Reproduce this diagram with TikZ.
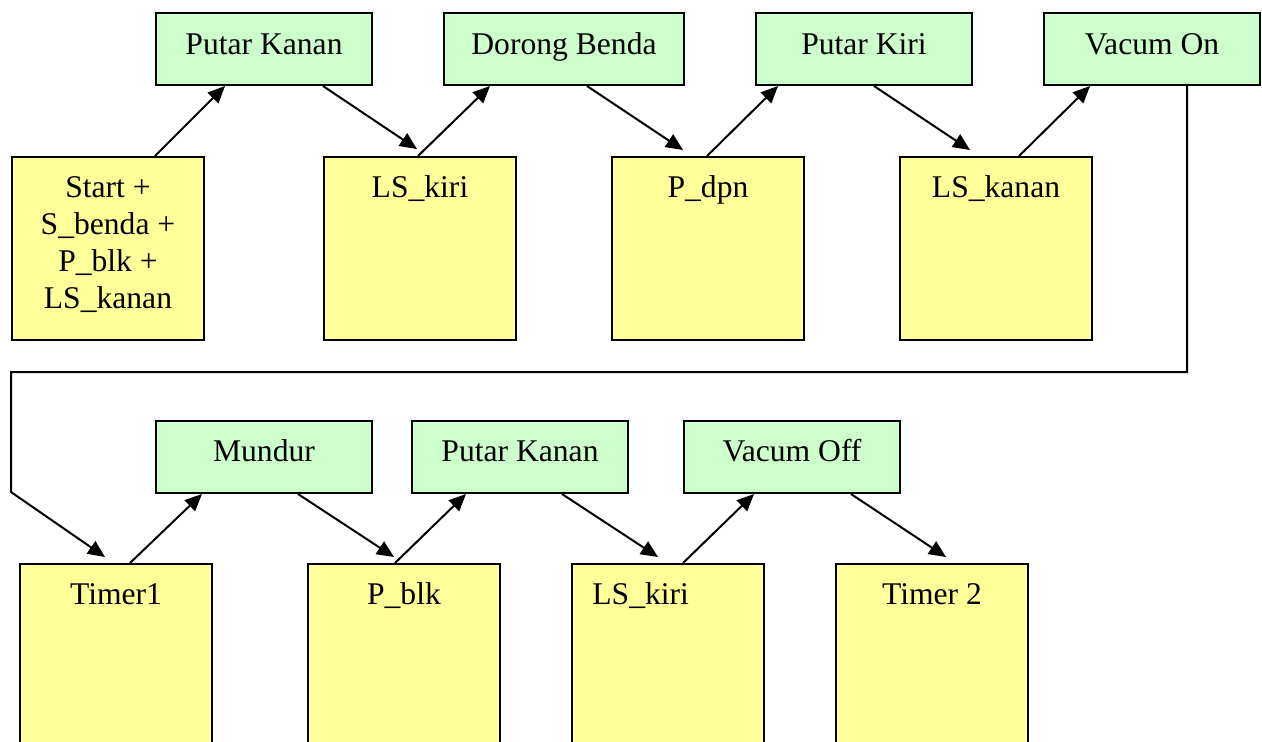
\documentclass[tikz,border=0pt]{standalone}
\usepackage{fontspec}
\setmainfont{Liberation Serif}
\usetikzlibrary{arrows.meta,calc}
\definecolor{gfill}{HTML}{CCFFCC}
\definecolor{yfill}{HTML}{FFFF99}
\begin{document}
\begin{tikzpicture}[x=0.5pt,y=-0.5pt,
  gbox/.style={draw=black, line width=1pt, fill=gfill, minimum height=36pt, anchor=north west, inner sep=0pt},
  ybox/.style={draw=black, line width=1pt, fill=yfill, minimum width=96pt, minimum height=91.5pt, anchor=north west, inner sep=0pt},
  txt/.style={font=\fontsize{15.8}{18.5}\selectfont, inner sep=0pt, anchor=base, align=center},
  arr/.style={line width=1pt, -{Triangle[length=8.5pt,width=7.5pt]}},
  conn/.style={line width=1pt}]
\useasboundingbox (0,0) rectangle (1262,741);
\clip (0,0) rectangle (1262,741);
% top row actions
\node[gbox, minimum width=108pt] (pk1) at (155,12) {};
\node[gbox, minimum width=120pt] (db)  at (443,12) {};
\node[gbox, minimum width=108pt] (pki) at (755,12) {};
\node[gbox, minimum width=108pt] (von) at (1043,12) {};
% top row conditions
\node[ybox] (s)   at (11,156) {};
\node[ybox] (ls1) at (323,156) {};
\node[ybox] (pd)  at (611,156) {};
\node[ybox] (lsk) at (899,156) {};
% bottom row actions
\node[gbox, minimum width=108pt] (mu)  at (155,420) {};
\node[gbox, minimum width=108pt] (pk2) at (411,420) {};
\node[gbox, minimum width=108pt] (vof) at (683,420) {};
% bottom row conditions
\node[ybox] (t1)  at (19,563) {};
\node[ybox] (pb)  at (307,563) {};
\node[ybox] (ls2) at (571,563) {};
\node[ybox] (t2)  at (835,563) {};
% texts
\node[txt] (pk1t) at ($(pk1.north)+(0,42)$) {Putar Kanan};
\node[txt] (dbt)  at ($(db.north)+(0,42)$) {Dorong Benda};
\node[txt] (pkit) at ($(pki.north)+(0,42)$) {Putar Kiri};
\node[txt] (vont) at ($(von.north)+(0,42)$) {Vacum On};
\node[txt] (st)   at ($(s.north)+(0,152)$) {Start +\\S\_benda +\\P\_blk +\\LS\_kanan};
\node[txt] (ls1t) at ($(ls1.north)+(0,41)$) {LS\_kiri};
\node[txt] (pdt)  at ($(pd.north)+(0,41)$) {P\_dpn};
\node[txt] (lskt) at ($(lsk.north)+(0,41)$) {LS\_kanan};
\node[txt] (mut)  at ($(mu.north)+(0,41)$) {Mundur};
\node[txt] (pk2t) at ($(pk2.north)+(0,41)$) {Putar Kanan};
\node[txt] (voft) at ($(vof.north)+(0,41)$) {Vacum Off};
\node[txt] (t1t)  at ($(t1.north)+(0,41)$) {Timer1};
\node[txt] (pbt)  at ($(pb.north)+(0,41)$) {P\_blk};
\node[txt, anchor=base west] (ls2t) at ($(ls2.north west)+(21,41)$) {LS\_kiri};
\node[txt] (t2t)  at ($(t2.north)+(0,41)$) {Timer 2};
% connectors top row
\draw[arr] ([xshift=72pt]s.north west) -- ([xshift=35pt]pk1.south west);
\draw[arr] ([xshift=84pt]pk1.south west) -- ([xshift=47pt,yshift=3.5pt]ls1.north west);
\draw[arr] ([xshift=47.5pt]ls1.north west) -- ([xshift=23.5pt]db.south west);
\draw[arr] ([xshift=72pt]db.south west) -- ([xshift=36pt,yshift=3pt]pd.north west);
\draw[arr] ([xshift=48pt]pd.north west) -- ([xshift=11.5pt]pki.south west);
\draw[arr] ([xshift=59.5pt]pki.south west) -- ([xshift=35.5pt,yshift=3pt]lsk.north west);
\draw[arr] ([xshift=60pt]lsk.north west) -- ([xshift=23.5pt]von.south west);
% long return connector
\coordinate (b1) at (11,372);
\coordinate (b2) at (11,492);
\draw[arr, line join=miter] ([xshift=72pt]von.south west) |- (b1) -- (b2) -- ([xshift=43pt,yshift=3pt]t1.north west);
% connectors bottom row
\draw[arr] ([xshift=55.5pt]t1.north west) -- ([xshift=23.5pt]mu.south west);
\draw[arr] ([xshift=71.5pt]mu.south west) -- ([xshift=43.5pt,yshift=3pt]pb.north west);
\draw[arr] ([xshift=44pt]pb.north west) -- ([xshift=27.5pt]pk2.south west);
\draw[arr] ([xshift=75.5pt]pk2.south west) -- ([xshift=43.5pt,yshift=3pt]ls2.north west);
\draw[arr] ([xshift=56pt]ls2.north west) -- ([xshift=35.5pt]vof.south west);
\draw[arr] ([xshift=84pt]vof.south west) -- ([xshift=55.5pt,yshift=3pt]t2.north west);
\end{tikzpicture}
\end{document}
